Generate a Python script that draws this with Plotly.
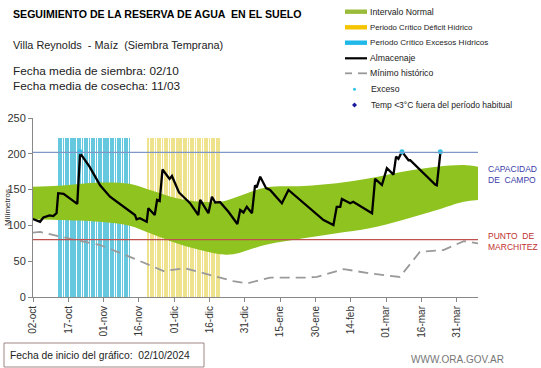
import pandas as pd
import plotly.graph_objects as go

BASE = pd.Timestamp("2024-10-02")

# Intervalo normal (band)
band_days = [0, 10.7, 28.5, 41, 49.7, 61, 71, 79.5, 85, 99, 114.9, 129, 143, 157, 171.5, 183, 189]
band_upper = [154, 155.5, 160, 158, 149.5, 138, 133, 133, 138, 153, 155, 158.8, 165.7, 175, 182, 184.4, 182]
band_lower = [108.5, 107.5, 105, 99.6, 89, 75, 65.6, 59.6, 59.6, 73, 82, 89, 96, 107.5, 121.5, 133, 135.5]

# Almacenaje
alm_days = [0, 3, 4.4, 7, 8.6, 10, 10.7, 13, 18.8, 20, 24, 28.5, 32.7, 38.4, 43.3, 44, 45.4, 48.3, 49,
            51.7, 52.7, 53.8, 55, 58, 59, 62, 66.7, 70.2, 71, 74.5, 76, 77.4, 79.5, 83, 86.8, 88, 89.4,
            90.8, 93, 94.3, 95, 96.5, 99, 100.7, 105.7, 108.5, 114.9, 123.4, 127.6, 129, 130.5, 131.2,
            134.7, 136, 144, 145.3, 148.2, 150.3, 153.1, 154.2, 155.2, 156.7, 159.5, 160.2, 170.8, 171.5, 173]
alm_vals = [109, 105, 111, 114, 113, 117, 145, 144, 130, 201, 182, 156, 140, 126, 114.5, 108.5, 110, 105, 124,
            114.5, 135.5, 134, 178, 165, 169, 146, 131, 114.5, 135.5, 117, 140, 132, 132.5, 119, 102, 121.5, 118,
            126, 117, 156, 153, 168, 152, 149.5, 131, 149.5, 131, 107.5, 100.6, 126, 126, 137,
            131, 133, 117, 165, 156.4, 180, 171, 196, 193, 203, 191, 191, 157, 156, 201]

# Minimo historico
min_days = [0, 3, 10.7, 18.5, 28.5, 42.7, 49.7, 55.4, 64.6, 73.8, 85, 90.8, 100.7, 114.9, 120.6, 132, 143,
            155.8, 164.3, 174.3, 183, 189]
min_vals = [90, 91, 85, 79.6, 72.6, 54, 44.7, 36.3, 40, 31.7, 22.3, 19, 27, 27, 28, 39, 33, 28, 63, 65.6, 78, 75]

# Exceso points
exc_days = [20, 156.7, 173]
exc_vals = [203, 203, 203]

# Critical periods (daily bars)
exc_period = ("2024-10-13", "2024-11-12")
def_period = ("2024-11-20", "2024-12-20")
period_height = 222

capacidad_campo = 202
punto_marchitez = 80

tick_dates = ["2024-10-02", "2024-10-17", "2024-11-01", "2024-11-16", "2024-12-01", "2024-12-16",
              "2024-12-31", "2025-01-15", "2025-01-30", "2025-02-14", "2025-03-01", "2025-03-16", "2025-03-31"]
tick_labels = ["02-oct", "17-oct", "01-nov", "16-nov", "01-dic", "16-dic", "31-dic", "15-ene", "30-ene",
               "14-feb", "01-mar", "16-mar", "31-mar"]


def to_dates(days):
    return [BASE + pd.to_timedelta(d, unit="D") for d in days]


FONT = "Liberation Sans, Arial, sans-serif"
W, H = 541, 368
L, R, T, B = 33, 478, 118, 297


def px(x):
    return (x - L) / (R - L)


def py(y):
    return (B - y) / (B - T)


fig = go.Figure()

exc_dates = pd.date_range(*exc_period, freq="D")
def_dates = pd.date_range(*def_period, freq="D")
fig.add_trace(go.Bar(x=exc_dates, y=[period_height] * len(exc_dates), marker=dict(color="#66c8de", line_width=0),
                     width=0.33 * 86400000, showlegend=False))
fig.add_trace(go.Bar(x=def_dates, y=[period_height] * len(def_dates), marker=dict(color="#efe28c", line_width=0),
                     width=0.33 * 86400000, showlegend=False))

fig.add_trace(go.Scatter(x=to_dates(band_days), y=band_lower, mode="lines", line=dict(width=0, shape="spline"),
                         showlegend=False, hoverinfo="skip"))
fig.add_trace(go.Scatter(x=to_dates(band_days), y=band_upper, mode="lines", line=dict(width=0, shape="spline"),
                         fill="tonexty", fillcolor="#8fc31f", showlegend=False, name="Intervalo Normal"))

fig.add_trace(go.Scatter(x=to_dates(min_days), y=min_vals, mode="lines",
                         line=dict(color="#9a9a9a", width=1.8, dash="10px,6px"), showlegend=False))

fig.add_hline(y=capacidad_campo, line=dict(color="#7f97c8", width=1.2))
fig.add_hline(y=punto_marchitez, line=dict(color="#c0504d", width=1.2))

fig.add_trace(go.Scatter(x=to_dates(alm_days), y=alm_vals, mode="lines",
                         line=dict(color="black", width=2.3), showlegend=False))
fig.add_trace(go.Scatter(x=to_dates(exc_days), y=exc_vals, mode="markers",
                         marker=dict(color="#2ec4e6", size=5), showlegend=False))

fig.update_layout(
    width=W, height=H,
    margin=dict(l=L, r=W - R, t=T, b=H - B),
    paper_bgcolor="white", plot_bgcolor="white",
    bargap=0, barmode="overlay",
    font=dict(family=FONT, color="#222"),
    xaxis=dict(range=["2024-10-02", "2025-04-09"], tickvals=tick_dates, ticktext=tick_labels, automargin=False,
               tickangle=-90, tickfont=dict(size=10, color="#333"), showgrid=False, showline=True,
               linecolor="#888", linewidth=1, ticks="outside", ticklen=4, tickcolor="#888", zeroline=False),
    yaxis=dict(range=[0, 250], tickvals=[0, 50, 100, 150, 200, 250], tickfont=dict(size=11, color="#333"),
               automargin=False, showgrid=False, showline=True, linecolor="#888", linewidth=1, ticks="outside",
               ticklen=4, tickcolor="#888", zeroline=False),
)

ann = []
ann.append(dict(text="<b>SEGUIMIENTO DE LA RESERVA DE AGUA  EN EL SUELO</b>", x=px(11), y=py(14),
                font=dict(size=10.6, color="black")))
ann.append(dict(text="Villa Reynolds  - Maíz  (Siembra Temprana)", x=px(11), y=py(45),
                font=dict(size=10.9, color="#222")))
ann.append(dict(text="Fecha media de siembra: 02/10", x=px(11), y=py(71), font=dict(size=11.8, color="#222")))
ann.append(dict(text="Fecha media de cosecha: 11/03", x=px(11), y=py(86), font=dict(size=11.8, color="#222")))
ann.append(dict(text="CAPACIDAD<br>DE  CAMPO", x=px(486), y=py(174), align="left",
                font=dict(size=8.5, color="#3a3aa8")))
ann.append(dict(text="PUNTO  DE<br>MARCHITEZ", x=px(486), y=py(241), align="left",
                font=dict(size=8.5, color="#c03030")))
ann.append(dict(text="Milímetros", x=px(7), y=py(208), textangle=-90, xanchor="center",
                font=dict(size=8, color="#333")))
ann.append(dict(text="Fecha de inicio del gráfico:  02/10/2024", x=px(8), y=py(355),
                font=dict(size=10.3, color="#222")))
ann.append(dict(text="WWW.ORA.GOV.AR", x=px(409), y=py(359), font=dict(size=10, color="#777")))

legend_items = [
    ("bar", "#9bbb3b", "Intervalo Normal", 11.7, 8.7),
    ("bar", "#f5c400", "Periodo Crítico Déficit Hídrico", 27.3, 7.8),
    ("bar", "#1fb8e8", "Periodo Crítico Excesos Hídricos", 42.7, 8.1),
    ("line", "black", "Almacenaje", 58.3, 8.7),
    ("dash", "#999", "Mínimo histórico", 73.3, 8.7),
    ("dot", "#2ec4e6", "Exceso", 89.3, 8.7),
    ("diamond", "#1a1aa0", "Temp <3°C fuera del período habitual", 105, 8.5),
]
shapes = []
for kind, col, label, yy, fs in legend_items:
    tx = 368
    if kind == "bar":
        shapes.append(dict(type="rect", xref="paper", yref="paper", x0=px(345), x1=px(367),
                           y0=py(yy + 2.2), y1=py(yy - 2.2), fillcolor=col, line_width=0))
    elif kind == "line":
        shapes.append(dict(type="line", xref="paper", yref="paper", x0=px(345), x1=px(367),
                           y0=py(yy), y1=py(yy), line=dict(color=col, width=2.2)))
    elif kind == "dash":
        shapes.append(dict(type="line", xref="paper", yref="paper", x0=px(345), x1=px(352),
                           y0=py(yy), y1=py(yy), line=dict(color=col, width=1.8)))
        shapes.append(dict(type="line", xref="paper", yref="paper", x0=px(358), x1=px(367),
                           y0=py(yy), y1=py(yy), line=dict(color=col, width=1.8)))
    elif kind == "dot":
        tx = 369
        shapes.append(dict(type="circle", xref="paper", yref="paper", x0=px(353), x1=px(356),
                           y0=py(yy + 1.5), y1=py(yy - 1.5), fillcolor=col, line_width=0))
    elif kind == "diamond":
        tx = 369
        shapes.append(dict(type="path", xref="paper", yref="paper",
                           path=f"M {px(354.5)},{py(yy - 2.5)} L {px(357)},{py(yy)} L {px(354.5)},{py(yy + 2.5)} L {px(352)},{py(yy)} Z",
                           fillcolor=col, line_width=0))
    ann.append(dict(text=label, x=px(tx), y=py(yy), font=dict(size=fs, color="#222")))

shapes.append(dict(type="rect", xref="paper", yref="paper", x0=px(4), x1=px(204), y0=py(367), y1=py(343),
                   line=dict(color="#a08585", width=1), fillcolor="rgba(0,0,0,0)"))

for a in ann:
    a.setdefault("xref", "paper")
    a.setdefault("yref", "paper")
    a.setdefault("xanchor", "left")
    a.setdefault("yanchor", "middle")
    a.setdefault("showarrow", False)
fig.update_layout(annotations=ann, shapes=list(fig.layout.shapes) + shapes)

fig.write_html("out.html", config={"displayModeBar": False},
               post_script="document.body.style.margin='0';document.body.style.overflow='hidden';")
